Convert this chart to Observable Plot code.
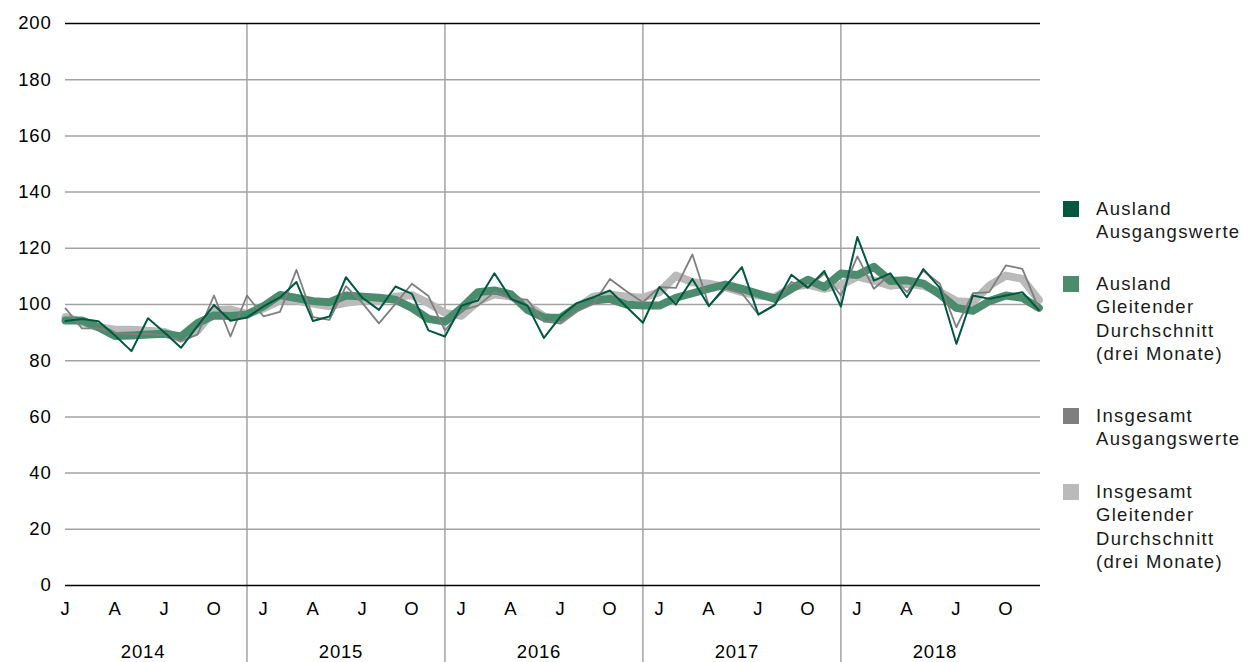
<!DOCTYPE html>
<html><head><meta charset="utf-8">
<script src="https://cdn.jsdelivr.net/npm/d3@7"></script>
<script src="https://cdn.jsdelivr.net/npm/@observablehq/plot@0.6"></script>
<style>
body{margin:0;background:#fff;font-family:"Liberation Sans",Arial,sans-serif;}
#wrap{position:relative;width:1247px;height:662px;overflow:hidden;}
#chart{position:absolute;left:0;top:0;}
.item{position:absolute;left:1063px;display:flex;align-items:flex-start;}
.sw{width:16px;height:16px;margin-top:4px;flex:none;}
.lbl{margin-left:17px;font-size:18.5px;line-height:23.3px;color:#1a1a1a;letter-spacing:1.3px;white-space:nowrap;}
</style>
</head><body>
<div id="wrap"><div id="chart"></div><div id="legend"></div></div>
<script>
// ---- data (index values, Jan 2014 – Dec 2018) ----
const years = [2014, 2015, 2016, 2017, 2018];
const monthLetters = ["J","F","M","A","M","J","J","A","S","O","N","D"];
const labelledMonths = [0, 3, 6, 9];
const yTicks = [0, 20, 40, 60, 80, 100, 120, 140, 160, 180, 200];

const auslandRaw = [
  94.1, 94.8, 94.0, 89.0, 83.4, 95.1, 90.0, 84.6, 92.3, 99.8, 94.2, 95.4,
  99.3, 102.5, 108.0, 94.1, 95.7, 109.7, 102.4, 98.1, 106.4, 103.8, 90.8, 88.6,
  99.6, 101.4, 111.1, 102.0, 99.6, 88.1, 95.7, 100.5, 102.6, 105.0, 99.2, 93.5,
  106.2, 100.0, 109.1, 99.4, 106.4, 113.3, 96.4, 99.8, 110.6, 106.0, 111.9, 99.3,
  124.0, 108.5, 111.1, 102.6, 112.6, 105.9, 86.0, 103.2, 102.0, 103.2, 104.4, 98.0
];
const auslandAvg = [
  94.3, 94.3, 91.9, 88.8, 89.0, 89.3, 89.6, 88.6, 93.4, 96.1, 95.9, 96.4,
  99.4, 103.4, 102.3, 101.2, 100.8, 103.2, 102.8, 102.4, 101.7, 98.8, 94.9, 93.9,
  98.7, 104.4, 105.0, 103.6, 98.1, 95.3, 95.3, 99.3, 101.4, 102.0, 100.0, 99.6,
  99.6, 102.4, 104.0, 105.6, 107.1, 105.6, 103.8, 102.0, 105.6, 108.8, 106.2, 111.0,
  110.5, 113.4, 108.4, 108.6, 107.4, 103.6, 98.8, 97.8, 101.2, 103.2, 102.4, 98.8
];
const gesamtRaw = [
  98.6, 91.5, 91.5, 90.0, 89.5, 89.5, 89.0, 87.0, 89.3, 103.2, 88.6, 103.2,
  95.8, 97.4, 112.3, 95.5, 94.5, 106.5, 100.5, 93.3, 100.2, 107.4, 103.0, 90.7,
  97.9, 99.6, 104.4, 102.0, 101.7, 93.9, 93.3, 97.5, 100.2, 109.1, 104.7, 100.8,
  106.2, 105.9, 117.8, 99.6, 105.6, 104.0, 96.5, 100.0, 108.0, 106.0, 111.0, 103.2,
  117.1, 105.6, 110.7, 104.4, 112.0, 107.4, 91.9, 104.0, 104.4, 113.9, 112.7, 98.5
];
const gesamtAvg = [
  95.5, 93.7, 91.9, 91.0, 91.0, 90.7, 90.2, 87.8, 90.7, 97.9, 98.2, 96.7,
  98.6, 101.4, 101.4, 100.3, 99.4, 100.6, 101.4, 101.2, 102.8, 103.3, 100.5, 97.0,
  96.0, 101.1, 103.6, 102.8, 99.8, 95.8, 94.3, 98.8, 102.8, 103.6, 102.8, 102.4,
  104.4, 110.3, 107.9, 107.4, 106.2, 104.4, 103.2, 102.6, 106.2, 107.1, 105.6, 107.0,
  109.9, 108.5, 106.7, 107.4, 106.7, 104.4, 101.2, 100.8, 106.7, 110.3, 109.1, 101.6
];

const seriesNames = [
  "Ausland\nAusgangswerte",
  "Ausland\nGleitender\nDurchschnitt\n(drei Monate)",
  "Insgesamt\nAusgangswerte",
  "Insgesamt\nGleitender\nDurchschnitt\n(drei Monate)"
];
const seriesColors = ["#00583f", "#4a8c6d", "#7f7f7f", "#bababa"];

// ---- build table ----
const rows = auslandRaw.map((v, i) => ({
  i, ar: v, aa: auslandAvg[i], gr: gesamtRaw[i], ga: gesamtAvg[i]
}));
const monthTicks = [];
years.forEach((y, k) => labelledMonths.forEach(m => monthTicks.push(k * 12 + m)));
const yearBreaks = years.slice(1).map((y, k) => (k + 1) * 12 - 1);
const yearLabels = years.map((y, k) => ({pos: k * 12 + 4.7, label: String(y)}));

const chart = Plot.plot({
  width: 1050,
  height: 662,
  marginLeft: 65,
  marginRight: 10,
  marginTop: 23,
  marginBottom: 77,
  style: {fontFamily: '"Liberation Sans", Arial, sans-serif', fontSize: "18.5px", color: "#000", letterSpacing: "0.8px"},
  x: {domain: [0, 59.1], axis: null},
  y: {domain: [0, 200], axis: null},
  marks: [
    Plot.ruleY(yTicks.filter(v => v > 0 && v < 200), {stroke: "#a3a3a3", strokeWidth: 1.5}),
    Plot.ruleX(yearBreaks, {y1: 200, y2: -30, stroke: "#a3a3a3", strokeWidth: 1.5}),
    Plot.ruleY([0, 200], {stroke: "#000", strokeWidth: 1.5}),
    Plot.line(rows, {x: "i", y: "ga", stroke: seriesColors[3], strokeWidth: 8, strokeLinejoin: "round"}),
    Plot.line(rows, {x: "i", y: "aa", stroke: seriesColors[1], strokeWidth: 8, strokeLinejoin: "round"}),
    Plot.line(rows, {x: "i", y: "gr", stroke: seriesColors[2], strokeWidth: 1.8}),
    Plot.line(rows, {x: "i", y: "ar", stroke: seriesColors[0], strokeWidth: 2}),
    Plot.axisY({ticks: yTicks, tickSize: 0, tickPadding: 14, fontSize: 18.5, fill: "#000"}),
    Plot.axisX({ticks: monthTicks, tickFormat: i => monthLetters[i % 12], tickSize: 0, tickPadding: 16, fontSize: 18.5, fill: "#000"}),
    Plot.text(yearLabels, {x: "pos", y: () => 0, dy: 67, text: "label", fontSize: 18.5, fill: "#000"})
  ]
});
document.getElementById("chart").appendChild(chart);

// ---- legend ----
const legendTops = [197, 272, 404, 480];
const legend = document.getElementById("legend");
seriesNames.forEach((name, k) => {
  const it = document.createElement("div");
  it.className = "item";
  it.style.top = legendTops[k] + "px";
  const sw = document.createElement("div");
  sw.className = "sw";
  sw.style.background = seriesColors[k];
  const lb = document.createElement("div");
  lb.className = "lbl";
  lb.innerHTML = name.split("\n").join("<br>");
  it.appendChild(sw); it.appendChild(lb);
  legend.appendChild(it);
});
</script>
</body></html>
